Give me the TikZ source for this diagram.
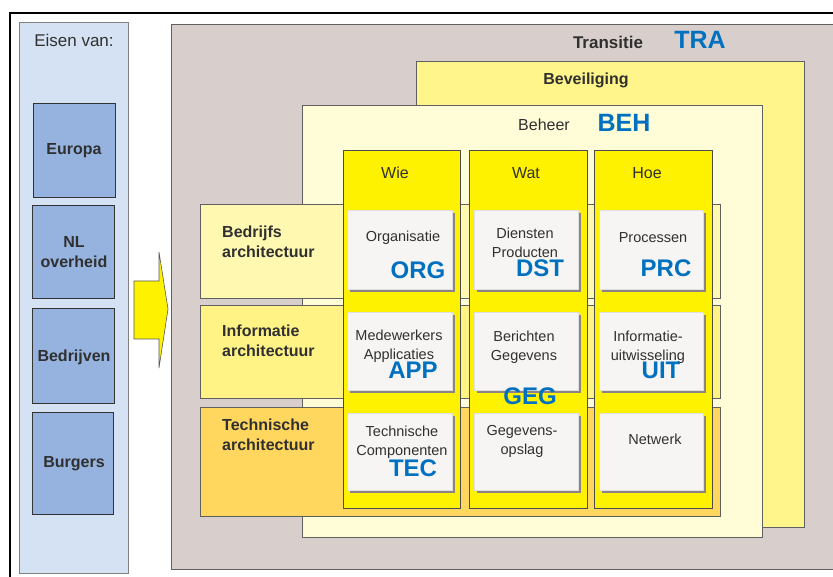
\documentclass[tikz,border=0pt]{standalone}
\usepackage{fontspec}
\setmainfont{Liberation Sans}
\usepackage{xcolor}
\usepackage{tikz}

\definecolor{codeblue}{RGB}{0,112,192}
\definecolor{txtgray}{RGB}{48,48,48}
\definecolor{panelblue}{RGB}{213,226,243}
\definecolor{boxblue}{RGB}{149,179,222}
\definecolor{tragray}{RGB}{216,207,204}
\definecolor{bevyellow}{RGB}{255,245,138}
\definecolor{behcream}{RGB}{255,252,216}
\definecolor{bedryellow}{RGB}{255,248,176}
\definecolor{infyellow}{RGB}{255,243,133}
\definecolor{tecorange}{RGB}{255,215,94}
\definecolor{colyellow}{RGB}{255,242,0}
\definecolor{cellgray}{RGB}{246,245,243}
\definecolor{shadowgray}{RGB}{140,132,132}

\tikzset{
  edge/.style={draw=gray!75!black, line width=0.9pt},
  lbl/.style={text=txtgray, font=\fontsize{14.5}{19}\selectfont, align=center, inner sep=0pt},
  head/.style={text=txtgray, font=\fontsize{16}{20}\selectfont, inner sep=0pt},
  bold/.style={text=txtgray, font=\fontsize{16}{20}\selectfont\bfseries, align=center, inner sep=0pt},
  rowlbl/.style={text=txtgray, font=\fontsize{16}{20}\selectfont\bfseries, align=left, inner sep=0pt, anchor=north west},
  code/.style={text=codeblue, font=\fontsize{24}{24}\selectfont\bfseries, inner sep=0pt}
}

\begin{document}
\begin{tikzpicture}[x=1pt, y=-1pt]
        \useasboundingbox (0,0) rectangle (833,577);
        \fill[white] (0,0) rectangle (833,577);

        \draw[black, line width=2.6pt] (10,577) -- (10,13) -- (833,13);

        \filldraw[fill=panelblue, draw=gray] (19,22) rectangle (128,573);
        \node[head, font=\fontsize{17}{20}\selectfont] (eisen) at (74,40) {Eisen van:};
        \filldraw[fill=boxblue, edge, draw=gray!40!black] (33,103) rectangle (115,197);
        \filldraw[fill=boxblue, edge, draw=gray!40!black] (32,205) rectangle (114,298);
        \filldraw[fill=boxblue, edge, draw=gray!40!black] (32,308) rectangle (114,403);
        \filldraw[fill=boxblue, edge, draw=gray!40!black] (32,412) rectangle (113,514);
        \node[bold] (europa) at (74,151) {Europa};
        \node[bold] (nl) at (74,252) {NL\\overheid};
        \node[bold] (bedrijven) at (74,357) {Bedrijven};
        \node[bold] (burgers) at (74,464) {Burgers};

        \filldraw[fill=colyellow, draw=gray!70!black, line width=0.6pt]
          (134,281) -- (159,281) -- (159,252) -- (168,309) -- (159,368) -- (159,339) -- (134,339) -- cycle;

        \fill[tragray] (171,24) rectangle (833,569);
        \draw[edge] (833,24) -- (171,24) -- (171,569) -- (833,569);
        \node[bold, font=\fontsize{17}{20}\selectfont\bfseries] (transitie) at (608,42) {Transitie};
        \node[code, font=\fontsize{25}{25}\selectfont\bfseries] (tra) at (700,40) {TRA};

        \filldraw[fill=bevyellow, edge] (416,61) rectangle (804,527);
        \node[bold] (beveiliging) at (586,80) {Beveiliging};

        \filldraw[fill=behcream, edge] (302,105) rectangle (762,537);
        \node[head] (beheer) at (544,125) {Beheer};
        \node[code, font=\fontsize{25}{25}\selectfont\bfseries] (beh) at (624,123) {BEH};

        \filldraw[fill=bedryellow, edge] (200,204) rectangle (720,298);
        \filldraw[fill=infyellow, edge] (200,305) rectangle (720,398);
        \filldraw[fill=tecorange, edge] (200,407) rectangle (720,516);
        \node[rowlbl] (bedr) at (222,226) {Bedrijfs\\architectuur};
        \node[rowlbl] (info) at (222,325) {Informatie\\architectuur};
        \node[rowlbl] (tech) at (222,419) {Technische\\architectuur};

        \filldraw[fill=colyellow, edge, draw=gray!60!black] (343,150) rectangle (460,508);
        \filldraw[fill=colyellow, edge, draw=gray!60!black] (469,150) rectangle (587,508);
        \filldraw[fill=colyellow, edge, draw=gray!60!black] (594,150) rectangle (712,508);
        \node[head] (wie) at (395,173) {Wie};
        \node[head] (wat) at (526,173) {Wat};
        \node[head] (hoe) at (647,173) {Hoe};

        \fill[shadowgray] (350,213) rectangle (455,292);
        \fill[shadowgray] (477,213) rectangle (581,292);
        \fill[shadowgray] (602,213) rectangle (706,292);
        \fill[shadowgray] (350,315) rectangle (455,393);
        \fill[shadowgray] (477,315) rectangle (581,393);
        \fill[shadowgray] (602,315) rectangle (706,393);
        \fill[shadowgray] (350,416) rectangle (455,493);
        \fill[shadowgray] (477,416) rectangle (581,493);
        \fill[shadowgray] (602,416) rectangle (706,493);
        \filldraw[fill=cellgray, draw=gray!25] (347,210) rectangle (452,289);
        \filldraw[fill=cellgray, draw=gray!25] (474,210) rectangle (578,289);
        \filldraw[fill=cellgray, draw=gray!25] (599,210) rectangle (703,289);
        \filldraw[fill=cellgray, draw=gray!25] (347,312) rectangle (452,390);
        \filldraw[fill=cellgray, draw=gray!25] (474,312) rectangle (578,390);
        \filldraw[fill=cellgray, draw=gray!25] (599,312) rectangle (703,390);
        \filldraw[fill=cellgray, draw=gray!25] (347,413) rectangle (452,490);
        \filldraw[fill=cellgray, draw=gray!25] (474,413) rectangle (578,490);
        \filldraw[fill=cellgray, draw=gray!25] (599,413) rectangle (703,490);

        \node[lbl] (org) at (403,238) {Organisatie};
        \node[code] (orgcode) at (418,270) {ORG};
        \node[lbl] (dst) at (525,243) {Diensten\\Producten};
        \node[code] (dstcode) at (540,268) {DST};
        \node[lbl] (prc) at (653,238) {Processen};
        \node[code] (prccode) at (666,268) {PRC};

        \node[lbl] (app) at (399,346) {Medewerkers\\Applicaties};
        \node[code] (appcode) at (413,370) {APP};
        \node[lbl] (geg) at (524,347) {Berichten\\Gegevens};
        \node[code] (gegcode) at (530,396) {GEG};
        \node[lbl] (uit) at (648,347) {Informatie-\\uitwisseling};
        \node[code] (uitcode) at (661,370) {UIT};

        \node[lbl] (tec) at (402,442) {Technische\\Componenten};
        \node[code] (teccode) at (413,468) {TEC};
        \node[lbl] (opslag) at (522,441) {Gegevens-\\opslag};
        \node[lbl] (netwerk) at (655,439) {Netwerk};
    \end{tikzpicture}
\end{document}
